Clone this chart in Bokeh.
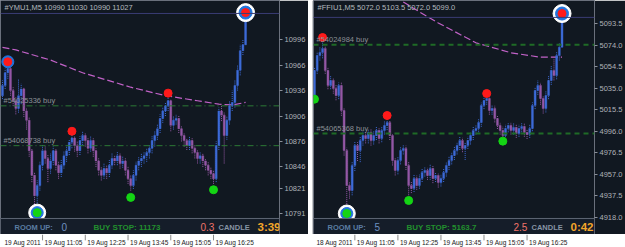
from bokeh.plotting import figure
from bokeh.layouts import row, column, Spacer
from bokeh.models import Range1d, FixedTicker, Label, Span, ColumnDataSource, NumeralTickFormatter
from bokeh.embed import file_html
from bokeh.resources import INLINE
from bokeh.core.properties import value

# ---------------- data: left chart #YMU1,M5 ----------------
ym_open = [10930, 10942, 10957, 10962, 10936, 10924, 10915, 10930, 10938, 10912,
           10901, 10865, 10836, 10812, 10824, 10848, 10865, 10856, 10844, 10853,
           10865, 10848, 10839, 10848, 10859, 10865, 10875, 10880, 10871, 10865,
           10877, 10883, 10877, 10868, 10877, 10865, 10853, 10842, 10836, 10844,
           10839, 10848, 10856, 10853, 10859, 10850, 10853, 10842, 10832, 10824,
           10836, 10848, 10853, 10856, 10859, 10863, 10868, 10877, 10883, 10891,
           10903, 10912, 10918, 10924, 10895, 10901, 10903, 10891, 10883, 10877,
           10871, 10877, 10868, 10863, 10856, 10859, 10853, 10848, 10842, 10838,
           10832, 10871, 10912, 10907, 10883, 10901, 10918, 10922, 10942, 10960,
           10983, 10990]
ym_close = [10942, 10957, 10962, 10936, 10924, 10915, 10930, 10938, 10912, 10901,
            10865, 10836, 10812, 10824, 10848, 10865, 10856, 10844, 10853, 10865,
            10848, 10839, 10848, 10859, 10865, 10875, 10880, 10871, 10865, 10877,
            10883, 10877, 10868, 10877, 10865, 10853, 10842, 10836, 10844, 10839,
            10848, 10856, 10853, 10859, 10850, 10853, 10842, 10832, 10824, 10836,
            10848, 10853, 10856, 10859, 10863, 10868, 10877, 10883, 10891, 10903,
            10912, 10918, 10924, 10895, 10901, 10903, 10891, 10883, 10877, 10871,
            10877, 10868, 10863, 10856, 10859, 10853, 10848, 10842, 10838, 10832,
            10871, 10912, 10907, 10883, 10901, 10918, 10922, 10942, 10960, 10983,
            10990, 11027]
ym_high = [10948, 10962, 10966, 10964, 10940, 10928, 10950, 10944, 10940, 10916,
           10905, 10868, 10840, 10830, 10852, 10872, 10870, 10860, 10862, 10870,
           10868, 10852, 10854, 10864, 10870, 10878, 10884, 10882, 10876, 10882,
           10888, 10886, 10880, 10882, 10880, 10868, 10856, 10846, 10850, 10848,
           10854, 10862, 10860, 10864, 10862, 10858, 10856, 10846, 10836, 10842,
           10852, 10858, 10862, 10864, 10868, 10872, 10882, 10888, 10896, 10908,
           10916, 10922, 10928, 10926, 10906, 10908, 10906, 10894, 10886, 10880,
           10882, 10880, 10872, 10866, 10864, 10862, 10856, 10852, 10846, 10842,
           10876, 10916, 10918, 10910, 10906, 10924, 10936, 10948, 10966, 10990,
           10996, 11030]
ym_low = [10926, 10938, 10950, 10930, 10918, 10908, 10910, 10920, 10905, 10890,
          10858, 10828, 10800, 10796, 10818, 10842, 10850, 10828, 10838, 10848,
          10842, 10832, 10834, 10844, 10852, 10860, 10868, 10864, 10858, 10860,
          10872, 10870, 10862, 10864, 10858, 10846, 10836, 10830, 10832, 10832,
          10834, 10844, 10848, 10848, 10844, 10845, 10836, 10826, 10818, 10820,
          10830, 10842, 10846, 10850, 10852, 10856, 10862, 10870, 10878, 10886,
          10898, 10906, 10912, 10888, 10890, 10896, 10886, 10876, 10870, 10866,
          10866, 10862, 10856, 10850, 10850, 10846, 10842, 10836, 10832, 10826,
          10828, 10866, 10900, 10850, 10878, 10896, 10912, 10916, 10936, 10954,
          10978, 10990]
ym_ma_bar = [0, 5, 18, 30, 48, 61, 73, 81, 86, 91]
ym_ma = [10987, 10984, 10972, 10957, 10940, 10930, 10924, 10920, 10919, 10922]
ym_orders = [10918, 10871]
ym_order_names = ["#54025336 buy", "#54068738 buy"]
ym_red_bar = [2, 26, 62, 91]
ym_red = [10970, 10888, 10933, 11028]
ym_green_bar = [13, 48, 79]
ym_green = [10792, 10810, 10819]
ym_ticks = [10791, 10821, 10846, 10876, 10906, 10936, 10966, 10996]
ym_dates = ["19 Aug 2011", "19 Aug 11:05", "19 Aug 12:25", "19 Aug 13:45", "19 Aug 15:05", "19 Aug 16:25"]
ym_status = ["ROOM UP:", "0", "BUY STOP: 11173", "0.3", "CANDLE", "3:39"]

# ---------------- data: right chart #FFIU1,M5 ----------------
ff_open = [5028.3, 5051.0, 5064.5, 5067.3, 5070.9, 5051.0, 5037.4, 5041.9, 5034.7, 5028.3,
           5037.4, 5014.8, 4978.6, 4946.9, 4942.4, 4965.0, 4983.1, 4978.6, 4987.6, 4992.1,
           4989.4, 4994.9, 4987.6, 4992.1, 4996.7, 4989.4, 4996.7, 5001.2, 5003.9, 4992.1,
           4969.5, 4960.5, 4969.5, 4978.6, 4980.4, 4965.0, 4946.9, 4944.2, 4953.2, 4946.9,
           4953.2, 4958.7, 4960.5, 4955.9, 4962.3, 4953.2, 4955.9, 4949.6, 4953.2, 4958.7,
           4965.0, 4969.5, 4974.0, 4978.6, 4983.1, 4987.6, 4980.4, 4983.1, 4987.6, 4992.1,
           4996.7, 4998.5, 5003.9, 5019.3, 5023.8, 5025.6, 5014.8, 5016.6, 5007.5, 5001.2,
           4996.7, 4992.1, 4998.5, 5001.2, 4996.7, 4999.4, 4993.9, 4998.5, 5000.3, 4994.9,
           4993.0, 4998.5, 5019.3, 5032.9, 5037.4, 5025.6, 5016.6, 5028.3, 5041.9, 5051.0,
           5046.4, 5064.5, 5072.0]
ff_close = [5051.0, 5064.5, 5067.3, 5070.9, 5051.0, 5037.4, 5041.9, 5034.7, 5028.3, 5037.4,
            5014.8, 4978.6, 4946.9, 4942.4, 4965.0, 4983.1, 4978.6, 4987.6, 4992.1, 4989.4,
            4994.9, 4987.6, 4992.1, 4996.7, 4989.4, 4996.7, 5001.2, 5003.9, 4992.1, 4969.5,
            4960.5, 4969.5, 4978.6, 4980.4, 4965.0, 4946.9, 4944.2, 4953.2, 4946.9, 4953.2,
            4958.7, 4960.5, 4955.9, 4962.3, 4953.2, 4955.9, 4949.6, 4953.2, 4958.7, 4965.0,
            4969.5, 4974.0, 4978.6, 4983.1, 4987.6, 4980.4, 4983.1, 4987.6, 4992.1, 4996.7,
            4998.5, 5003.9, 5019.3, 5023.8, 5025.6, 5014.8, 5016.6, 5007.5, 5001.2, 4996.7,
            4992.1, 4998.5, 5001.2, 4996.7, 4999.4, 4993.9, 4998.5, 5000.3, 4994.9, 4993.0,
            4998.5, 5019.3, 5032.9, 5037.4, 5025.6, 5016.6, 5028.3, 5041.9, 5051.0, 5046.4,
            5064.5, 5072.0, 5099.0]
ff_high = [5054, 5068, 5072, 5077, 5073, 5054, 5046, 5044, 5038, 5040,
           5040, 5017, 4981, 4950, 4968, 4987, 4986, 4991, 4996, 4995,
           4998, 4998, 4996, 5000, 4999, 5000, 5005, 5007, 5006, 4994,
           4972, 4973, 4982, 4984, 4983, 4968, 4950, 4957, 4956, 4957,
           4962, 4964, 4963, 4966, 4965, 4959, 4958, 4957, 4962, 4968,
           4973, 4977, 4982, 4986, 4991, 4990, 4986, 4991, 4995, 5000,
           5002, 5007, 5022, 5027, 5027.5, 5027, 5020, 5019, 5010, 5004,
           5000, 5002, 5004, 5004, 5003, 5002, 5002, 5004, 5003, 4998,
           5002, 5022, 5036, 5042, 5040, 5028, 5032, 5046, 5055, 5062,
           5068, 5076, 5103.5]
ff_low = [5027, 5048, 5060, 5062, 5048, 5034, 5034, 5030, 5024, 5025,
          5010, 4974, 4930, 4935, 4938, 4960, 4969, 4968, 4983, 4985,
          4985, 4983, 4984, 4988, 4985, 4986, 4993, 4997, 4988, 4965,
          4956, 4957, 4966, 4975, 4961, 4938, 4940, 4941, 4943, 4944,
          4950, 4955, 4952, 4952, 4949, 4950, 4945, 4946, 4950, 4955,
          4961, 4966, 4970, 4975, 4979, 4977, 4970, 4980, 4984, 4988,
          4993, 4995, 5000, 5016, 5020, 5011, 5011, 5004, 4998, 4993,
          4990.5, 4991, 4995, 4993, 4993, 4990, 4991, 4995, 4991, 4989,
          4990, 4996, 5016, 5029, 5020, 5012, 5013, 5025, 5038, 5042,
          5043, 5060, 5072]
ff_ma_bar = [33, 39, 46, 60, 73, 84, 92]
ff_ma = [5113, 5104, 5094, 5076, 5067, 5063, 5063]
ff_orders = [5074.3, 4993.9]
ff_order_names = ["#54024984 buy", "#54065368 buy"]
ff_red_bar = [3, 27, 64, 92]
ff_red = [5080.8, 5010.2, 5030.1, 5102.5]
ff_green_bar = [0, 12, 35, 70]
ff_green = [5025.0, 4921.5, 4933.3, 4987.0]
ff_ticks = [4918.0, 4937.5, 4957.0, 4976.5, 4996.0, 5015.5, 5035.0, 5054.5, 5074.0, 5093.5]
ff_dates = ["18 Aug 2011", "19 Aug 11:05", "19 Aug 12:25", "19 Aug 13:45", "19 Aug 15:05", "19 Aug 16:25"]
ff_status = ["ROOM UP:", "5", "BUY STOP: 5163.7", "2.5", "CANDLE", "0:42"]

date_bars = [0, 15, 31, 47, 63, 79]

# ---------------- style ----------------
BG = "#111821"
BULL = "#3d6bd8"
BEAR = "#9558a6"
MA_COL = "#c262c8"
FONT = value("Liberation Sans")


def chart(sym, o, h, l, c, ma_bar, ma, orders, order_names, red_bar, red, green_bar, green,
          ticks, fmt, dates, status, yr, status_top, xr, width, bl, br, order_dash, order_w,
          order_col, ring_top_blue_only):
    n = len(c)
    xs = list(range(n))
    cols = [BULL if cc >= oo else BEAR for oo, cc in zip(o, c)]
    src = ColumnDataSource(dict(x=xs, h=h, l=l,
                                top=[max(a, b) for a, b in zip(o, c)],
                                bot=[min(a, b) for a, b in zip(o, c)], col=cols))
    x_range = Range1d(*xr)
    p = figure(width=width, height=234, x_range=x_range, y_range=Range1d(*yr),
               x_axis_type=None, y_axis_location="right", output_backend="svg",
               toolbar_location=None, min_border_left=bl, min_border_right=br,
               min_border_top=0, min_border_bottom=0, background_fill_color=BG,
               border_fill_color=BG, outline_line_color="#6a707c")
    p.ygrid.visible = False
    ax = p.yaxis[0]
    ax.ticker = FixedTicker(ticks=ticks)
    ax.formatter = NumeralTickFormatter(format=fmt)
    ax.axis_line_color = None
    ax.major_tick_line_color = "#8a8f99"
    ax.major_tick_out = 3
    ax.major_tick_in = 0
    ax.minor_tick_line_color = None
    ax.major_label_text_color = "#aeb2b8"
    ax.major_label_text_font = "Liberation Sans"
    ax.major_label_text_font_size = "7.5px"
    ax.major_label_standoff = 2

    # order lines and current price line
    for price, name in zip(orders, order_names):
        p.add_layout(Span(location=price, dimension="width", line_color=order_col,
                          line_dash=order_dash, line_width=order_w))
        p.add_layout(Label(x=xr[0], y=price, x_offset=3, y_offset=1, text=name,
                           text_font="Liberation Sans", text_font_size="7.5px",
                           text_color="#8c9096", text_baseline="bottom"))
    p.add_layout(Span(location=c[-1], dimension="width", line_color="#3a3c74", line_width=1))

    # moving average
    p.line(ma_bar, ma, line_color=MA_COL, line_width=1.2, line_dash="7 3")

    # candles
    p.segment(x0="x", y0="l", x1="x", y1="h", source=src, line_color="col",
              line_width=1, line_dash="1 1")
    p.vbar(x="x", top="top", bottom="bot", width=0.72, source=src,
           fill_color="col", line_color="col", line_width=0.4)

    # fractal markers with rings
    ri = 0 if ring_top_blue_only else 1
    p.scatter([red_bar[-1]], [red[-1]], size=18, color="white")
    p.scatter([red_bar[-1]], [red[-1]], size=13, color="#2274dc")
    p.scatter([green_bar[ri]], [green[ri]], size=17, color="white")
    p.scatter([green_bar[ri]], [green[ri]], size=12, color="#2274dc")
    if ring_top_blue_only:
        p.scatter([red_bar[0]], [red[0]], size=12, color="#2274dc")
    p.scatter(red_bar, red, size=8, color="#ff1a1a")
    p.scatter(green_bar, green, size=8, color="#14d414")

    # status bar (bottom strip of the chart window)
    p.quad(left=[xr[0]], right=[xr[1]], bottom=[yr[0]], top=[status_top],
           fill_color="#151d29", line_color="#5e6674", line_width=1)
    xs_st = [14, 61, 93, 200, 218, 257]
    sizes = ["7.5px", "10px", "8px", "10px", "7.5px", "11.5px"]
    colors = ["#5a7ca2", "#6e90c0", "#22902e", "#f0736a", "#8694a4", "#f4a62a"]
    styles = ["bold", "normal", "bold", "normal", "bold", "bold"]
    for xx, t, sz, cl, st in zip(xs_st, status, sizes, colors, styles):
        p.add_layout(Label(x=xr[0], y=yr[0], x_offset=xx, y_offset=7.5, text=t,
                           text_font="Liberation Sans", text_font_size=sz,
                           text_color=cl, text_font_style=st, text_baseline="middle"))
    for yo in (10.5, 5):
        p.add_layout(Label(x=xr[1], y=yr[0], x_offset=2, y_offset=yo, text="9000000",
                           text_font="Liberation Sans", text_font_size="5px",
                           text_color="#8a8e96", text_baseline="middle"))

    # header and price box
    dec = 0 if fmt == "0" else 1
    head = "%s   %s %s %s %s" % (sym, *("%.*f" % (dec, v) for v in (o[-1], h[-1], l[-1], c[-1])))
    p.add_layout(Label(x=xr[0], y=yr[1], x_offset=4, y_offset=-7, text=head,
                       text_font="Liberation Sans", text_font_size="7.5px",
                       text_color="#b4b8be", text_baseline="middle"))
    p.add_layout(Label(x=xr[1], y=c[-1], x_offset=2, text="%.*f" % (dec, c[-1]),
                       text_font="Liberation Sans", text_font_size="7.5px",
                       text_color="#1c1c1c", text_baseline="middle",
                       background_fill_color="#c2c2c2"))

    # date strip
    d = figure(width=width, height=13, x_range=x_range, y_range=Range1d(0, 1),
               x_axis_type=None, y_axis_type=None, output_backend="svg",
               toolbar_location=None, min_border_left=bl, min_border_right=br,
               min_border_top=0, min_border_bottom=0, background_fill_color="white",
               border_fill_color="white", outline_line_color=None)
    d.grid.visible = False
    d.segment(x0=date_bars[1:], y0=[0.55] * 5, x1=date_bars[1:], y1=[1.0] * 5,
              line_color="#8a8a8a", line_width=1)
    d.text(x=date_bars, y=[0.42] * len(date_bars), text=dates, text_font=FONT,
           text_font_size="6.5px", text_color="#222222", text_baseline="middle", x_offset=2)
    return column(p, d, spacing=0)


left = chart("#YMU1,M5", ym_open, ym_high, ym_low, ym_close, ym_ma_bar, ym_ma,
             ym_orders, ym_order_names, ym_red_bar, ym_red, ym_green_bar, ym_green,
             ym_ticks, "0", ym_dates, ym_status, (10766.2, 11042.3), 10785.1, (-0.74, 103.7),
             308, 0, 26, "6 3 1 3", 1, "#2d7a36", True)
right = chart("#FFIU1,M5", ff_open, ff_high, ff_low, ff_close, ff_ma_bar, ff_ma,
              ff_orders, ff_order_names, ff_red_bar, ff_red, ff_green_bar, ff_green,
              ff_ticks, "0.0", ff_dates, ff_status, (4902.5, 5114.3), 4917.0, (-0.37, 104.07),
              313, 1, 30, "5 4", 2, "#1f6a26", False)

layout = row(left, Spacer(width=4, height=247), right, spacing=0)
open("out.html", "w").write(file_html(layout, INLINE))
